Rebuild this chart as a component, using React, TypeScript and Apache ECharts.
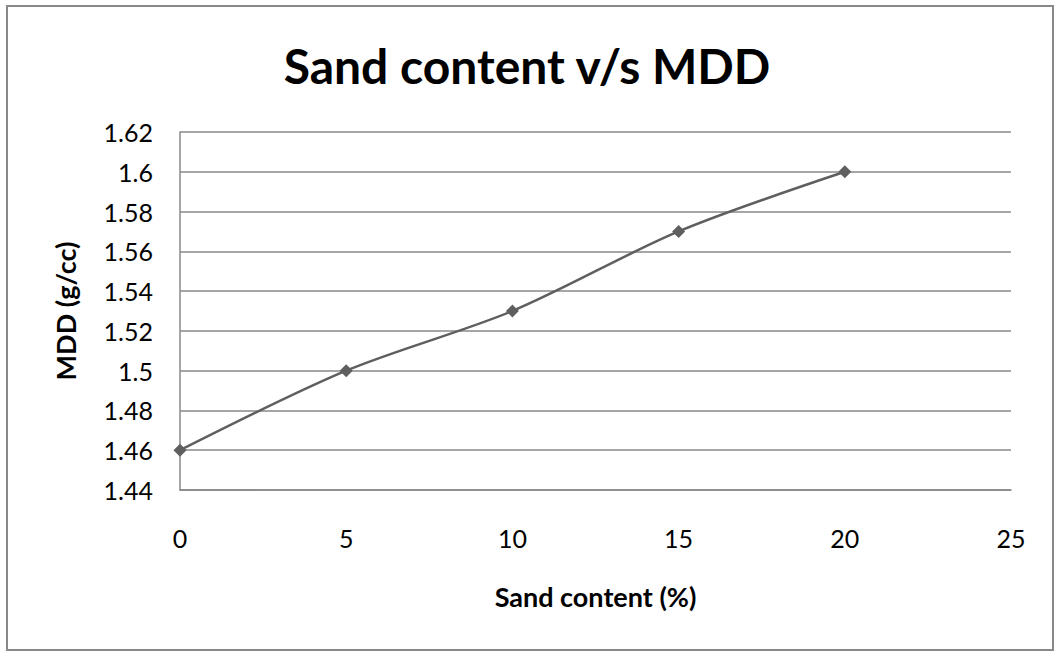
import React, { useEffect, useRef } from "react";
import * as echarts from "echarts";

const sandContent = [0, 5, 10, 15, 20];
const mdd = [1.46, 1.5, 1.53, 1.57, 1.6];
const titleText = "Sand content v/s MDD";
const xName = "Sand content (%)";
const yName = "MDD (g/cc)";

export default function App() {
  const ref = useRef<HTMLDivElement>(null);
  useEffect(() => {
    const chart = echarts.init(ref.current!, null, { renderer: "svg" });
    const font = "Lato, 'Open Sans', sans-serif";
    chart.setOption({
      animation: false,
      backgroundColor: "#ffffff",
      title: {
        text: titleText,
        left: "center",
        top: 36,
        textStyle: { fontFamily: font, fontSize: 48, fontWeight: "bold", color: "#000" },
      },
      graphic: [
        {
          type: "rect",
          shape: { x: 7, y: 6, width: 1046, height: 644 },
          style: { fill: "none", stroke: "#888", lineWidth: 2 },
          silent: true,
        },
      ],
      grid: { left: 180, top: 132, right: 43, bottom: 161 },
      xAxis: {
        type: "value",
        min: 0,
        max: 25,
        interval: 5,
        name: xName,
        nameLocation: "middle",
        nameGap: 93,
        nameTextStyle: { fontFamily: font, fontSize: 27, fontWeight: "bold", color: "#000" },
        axisLine: { show: true, lineStyle: { color: "#888", width: 1.5 } },
        axisTick: { show: false },
        splitLine: { show: false },
        axisLabel: { fontFamily: font, fontSize: 25, color: "#000", margin: 35 },
      },
      yAxis: {
        type: "value",
        min: 1.44,
        max: 1.62,
        interval: 0.02,
        name: yName,
        nameLocation: "middle",
        nameGap: 101,
        nameTextStyle: { fontFamily: font, fontSize: 27, fontWeight: "bold", color: "#000" },
        axisLine: { show: true, lineStyle: { color: "#888", width: 1.5 } },
        axisTick: { show: false },
        splitLine: { show: true, lineStyle: { color: "#888", width: 1.5 } },
        axisLabel: {
          fontFamily: font,
          fontSize: 25,
          color: "#000",
          margin: 27,
          formatter: (v: number) => String(+v.toFixed(2)),
        },
      },
      series: [
        {
          type: "line",
          data: sandContent.map((x, i) => [x, mdd[i]]),
          smooth: 0.3,
          symbol: "diamond",
          symbolSize: 13,
          lineStyle: { color: "#5f5f5f", width: 2.5 },
          itemStyle: { color: "#5f5f5f" },
        },
      ],
    });
    return () => chart.dispose();
  }, []);
  return (
    <div
      ref={ref}
      style={{ position: "fixed", left: 0, top: 0, width: 1054, height: 651 }}
    />
  );
}
